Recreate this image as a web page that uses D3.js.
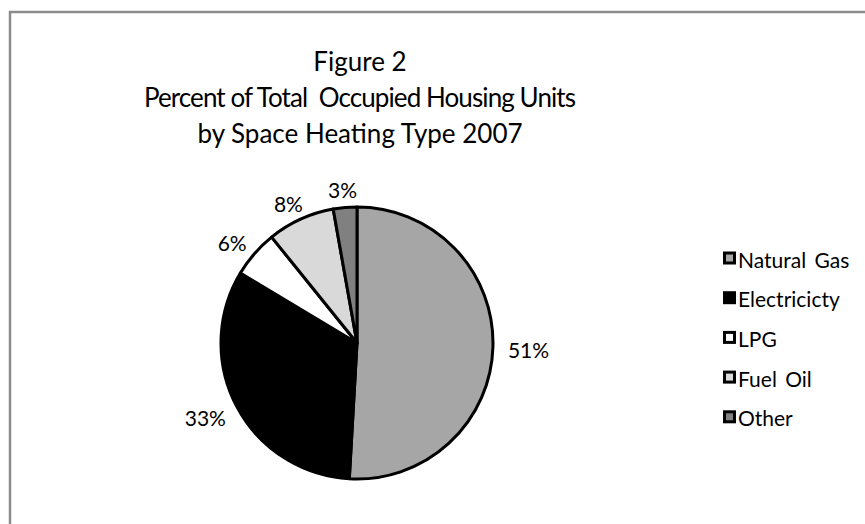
<!DOCTYPE html>
<html>
<head>
<meta charset="utf-8">
<script src="https://cdn.jsdelivr.net/npm/d3@7"></script>
<style>
  body { margin: 0; background: #fff; }
  text { font-family: Lato, "Open Sans", sans-serif; fill: #000; }
</style>
</head>
<body>
<svg id="chart"></svg>
<script>
const width = 865;
const height = 524;

// data
const categories = ["Natural Gas", "Electricicty", "LPG", "Fuel Oil", "Other"];
const values = [50.9, 32.7, 5.6, 8.0, 2.8];
const labels = ["51%", "33%", "6%", "8%", "3%"];
const colors = ["#a6a6a6", "#000000", "#ffffff", "#d9d9d9", "#808080"];
const titleLines = ["Figure 2", "Percent of Total  Occupied Housing Units", "by Space Heating Type 2007"];

const data = categories.map((c, i) => ({ name: c, value: values[i], label: labels[i], color: colors[i] }));

const svg = d3.select("#chart").attr("width", width).attr("height", height);

// chart area frame (only top and left edges visible)
svg.append("path")
  .attr("d", `M10,${height} V12 H${width}`)
  .attr("fill", "none")
  .attr("stroke", "#8c8c8c")
  .attr("stroke-width", 2.5);

// title
svg.append("g")
  .selectAll("text")
  .data(titleLines)
  .enter()
  .append("text")
  .attr("x", 360)
  .attr("y", (d, i) => 71 + i * 36)
  .attr("text-anchor", "middle")
  .style("font-size", "26px")
  .style("white-space", "pre")
  .each(function (d, i) {
    if (i === 1) d3.select(this).attr("textLength", 432).attr("lengthAdjust", "spacing");
  })
  .text((d) => d);

const cx = 357;
const cy = 343;
const radius = 136;

const pie = d3.pie().sort(null).value((d) => d.value);
const arc = d3.arc().innerRadius(0).outerRadius(radius);
const arcs = pie(data);

const chart = svg.append("g").attr("transform", `translate(${cx}, ${cy})`);

chart.selectAll(".slice")
  .data(arcs)
  .enter()
  .append("path")
  .attr("class", "slice")
  .attr("d", arc)
  .attr("fill", (d) => d.data.color)
  .attr("stroke", "#000")
  .attr("stroke-width", 3)
  .attr("stroke-linejoin", "round");

// data labels, outside end
const labelArc = d3.arc().innerRadius(radius + 10).outerRadius(radius + 10);
chart.selectAll(".label")
  .data(arcs)
  .enter()
  .append("text")
  .attr("class", "label")
  .style("font-size", "21px")
  .attr("text-anchor", "middle")
  .attr("dominant-baseline", "central")
  .text((d) => d.data.label)
  .each(function (d) {
    const w = this.getComputedTextLength();
    const h = 16;
    const a = (d.startAngle + d.endAngle) / 2;
    const [px, py] = labelArc.centroid(d);
    d3.select(this)
      .attr("x", px + Math.sin(a) * (w / 2 + 5))
      .attr("y", py - Math.cos(a) * (h / 2 + 2) + 2);
  });

// legend
const legend = svg.append("g").attr("transform", "translate(723, 258)");
const rows = legend.selectAll(".row")
  .data(data)
  .enter()
  .append("g")
  .attr("class", "row")
  .attr("transform", (d, i) => `translate(0, ${i * 39.7})`);

rows.append("rect")
  .attr("x", 1.5)
  .attr("y", -5)
  .attr("width", 10)
  .attr("height", 10)
  .attr("fill", (d) => d.color)
  .attr("stroke", "#000")
  .attr("stroke-width", 3);

rows.append("text")
  .attr("x", 15)
  .attr("y", 1)
  .attr("dominant-baseline", "central")
  .style("font-size", "21px")
  .style("word-spacing", "3px")
  .text((d) => d.name);
</script>
</body>
</html>
